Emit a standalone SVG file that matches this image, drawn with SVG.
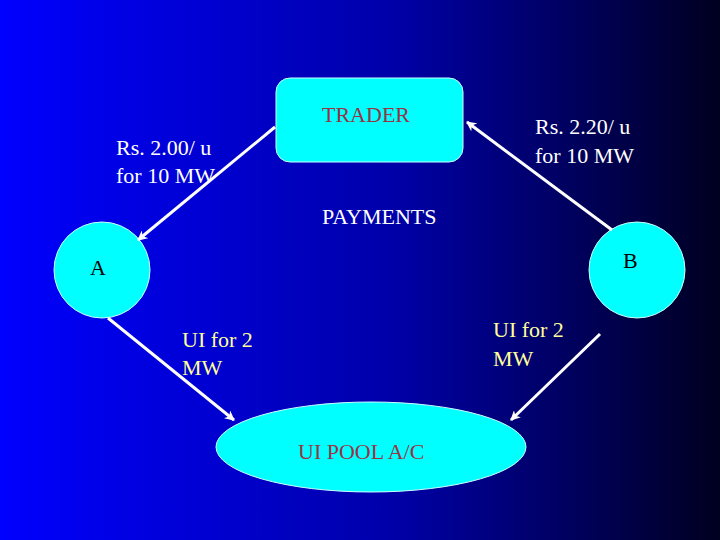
<svg xmlns="http://www.w3.org/2000/svg" width="720" height="540" viewBox="0 0 720 540">
<defs>
<linearGradient id="bg" x1="0" y1="0" x2="1" y2="0">
<stop offset="0" stop-color="#0000ff"/><stop offset="0.55" stop-color="#0000a8"/><stop offset="1" stop-color="#000020"/>
</linearGradient>
<marker id="ah" markerWidth="10" markerHeight="10" refX="9" refY="5" orient="auto" markerUnits="userSpaceOnUse" viewBox="0 0 10 10">
<path d="M0,0 L10,5 L0,10 L3,5 Z" fill="#fff"/>
</marker>
<style>
text{font-family:"Liberation Serif","Times New Roman",serif;font-size:22px;fill:#fff}
.shape{fill:#00ffff;stroke:#ccffff;stroke-width:1}
.dark{fill:#993344}.blk{fill:#000}.yel{fill:#ffff99}
.c line{stroke:#fff;stroke-width:3;marker-end:url(#ah)}
</style>
</defs>
<rect width="720" height="540" fill="url(#bg)"/>
<g id="trader"><rect class="shape" x="276" y="78" width="187" height="84" rx="14"/><text class="dark" x="322" y="122">TRADER</text></g>
<g id="a"><circle class="shape" cx="102" cy="270" r="48"/><text class="blk" x="90" y="275">A</text></g>
<g id="b"><circle class="shape" cx="637" cy="270" r="48"/><text class="blk" x="623" y="268">B</text></g>
<g id="pool"><ellipse class="shape" cx="371" cy="447" rx="155" ry="45"/><text class="dark" x="298" y="459">UI POOL A/C</text></g>
<g class="c" id="connectors">
<line x1="275" y1="127" x2="138" y2="240"/>
<line x1="612" y1="230" x2="467" y2="122"/>
<line x1="108" y1="318" x2="234" y2="420"/>
<line x1="600" y1="334" x2="511" y2="420"/>
</g>
<g id="labels">
<text x="116" y="155">Rs. 2.00/ u</text><text x="116" y="183">for 10 MW</text>
<text x="535" y="134">Rs. 2.20/ u</text><text x="535" y="163">for 10 MW</text>
<text x="322" y="224">PAYMENTS</text>
<text class="yel" x="182" y="347">UI for 2</text><text class="yel" x="182" y="375">MW</text>
<text class="yel" x="493" y="337">UI for 2</text><text class="yel" x="493" y="366">MW</text>
</g>
</svg>
